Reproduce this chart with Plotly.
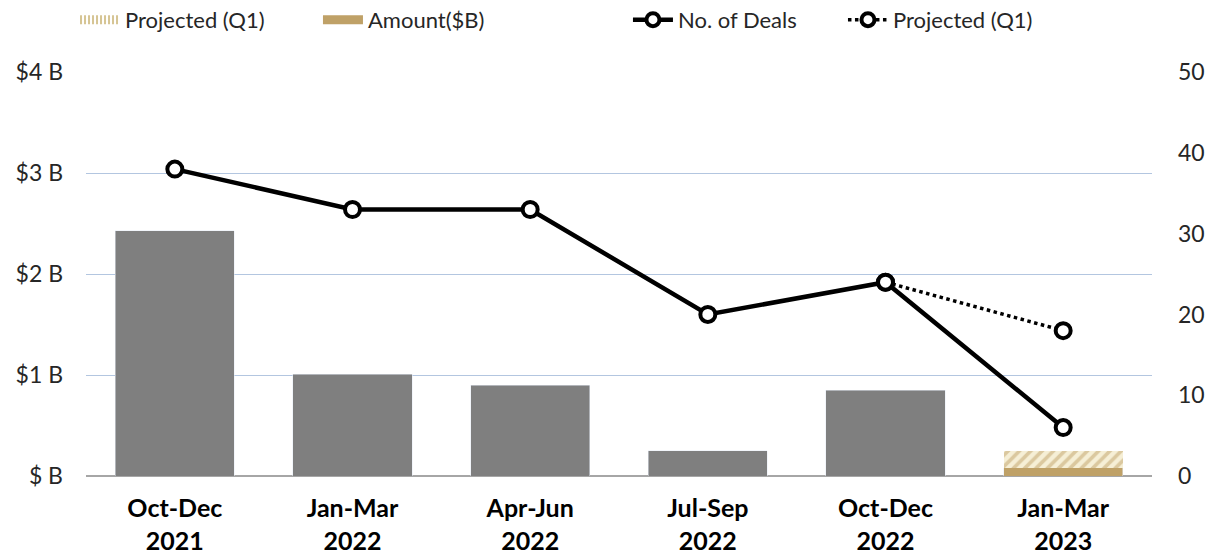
import plotly.graph_objects as go

quarters = ['Oct-Dec<br>2021', 'Jan-Mar<br>2022', 'Apr-Jun<br>2022',
            'Jul-Sep<br>2022', 'Oct-Dec<br>2022', 'Jan-Mar<br>2023']
amount_past = [2.43, 1.01, 0.90, 0.25, 0.85, None]
amount_current = [None, None, None, None, None, 0.08]
amount_projected_extra = [None, None, None, None, None, 0.17]
deals = [38, 33, 33, 20, 24, 6]
deals_projected_x = ['Oct-Dec<br>2022', 'Jan-Mar<br>2023']
deals_projected = [24, 18]

left_ticks = [0, 1, 2, 3, 4]
left_labels = ['$ B', '$1 B', '$2 B', '$3 B', '$4 B']
right_ticks = [0, 10, 20, 30, 40, 50]

GOLD = '#bfa167'
GRAY = '#7f7f7f'
FONT = 'Lato'

fig = go.Figure()

# bars (legend drawn with stand-in entries below)
fig.add_trace(go.Bar(x=quarters, y=amount_past, marker=dict(color=GRAY),
                     showlegend=False, width=0.67))
fig.add_trace(go.Bar(x=quarters, y=amount_current, marker=dict(color=GOLD),
                     showlegend=False, width=0.67))
fig.add_trace(go.Bar(
    x=quarters, y=amount_projected_extra, showlegend=False, width=0.67,
    marker=dict(color='#f6efd6', line=dict(width=0),
                pattern=dict(shape='/', fgcolor=GOLD, bgcolor='#f6efd6',
                             size=8, solidity=0.45)),
))

# lines
fig.add_trace(go.Scatter(
    x=deals_projected_x, y=deals_projected, yaxis='y2', showlegend=False,
    mode='lines+markers',
    line=dict(color='black', width=3.5, dash='dot'),
    marker=dict(size=15, color='white', line=dict(color='black', width=4)),
))
fig.add_trace(go.Scatter(
    x=quarters, y=deals, yaxis='y2', showlegend=False,
    mode='lines+markers',
    line=dict(color='black', width=4.5),
    marker=dict(size=15, color='white', line=dict(color='black', width=4)),
))

# legend entries, one legend each so they can be placed like the original
fig.add_trace(go.Scatter(name='Projected (Q1)', x=[None], y=[None], mode='lines',
                         legend='legend',
                         line=dict(color='#d6c594', width=9, dash='2px,2px')))
fig.add_trace(go.Scatter(name='Amount($B)', x=[None], y=[None], mode='lines',
                         legend='legend2',
                         line=dict(color=GOLD, width=9)))
fig.add_trace(go.Scatter(name='No. of Deals', x=[None], y=[None], mode='lines+markers',
                         yaxis='y2', legend='legend3', line=dict(color='black', width=4.5),
                         marker=dict(size=13, color='white', line=dict(color='black', width=4))))
fig.add_trace(go.Scatter(name='Projected (Q1)', x=[None], y=[None], mode='lines+markers',
                         yaxis='y2', legend='legend4', line=dict(color='black', width=3.5, dash='dot'),
                         marker=dict(size=13, color='white', line=dict(color='black', width=4))))

leg = dict(orientation='h', xanchor='left', y=1.129, yanchor='middle',
           font=dict(size=22, color='#262626'), itemwidth=40, bgcolor='rgba(0,0,0,0)')

fig.update_layout(
    width=1223, height=560,
    margin=dict(l=86, r=71, t=72, b=84, autoexpand=False),
    barmode='stack',
    plot_bgcolor='white', paper_bgcolor='white',
    font=dict(family=FONT, size=23, color='#262626'),
    legend=dict(leg, x=-0.0103),
    legend2=dict(leg, x=0.2176),
    legend3=dict(leg, x=0.5084),
    legend4=dict(leg, x=0.7101),
    xaxis=dict(
        tickfont=dict(size=25, color='black', family=FONT, weight='bold'),
        showgrid=False, showline=False, ticks='', ticklabelstandoff=15,
    ),
    yaxis=dict(
        range=[0, 4.002], tickvals=left_ticks, ticktext=left_labels,
        showgrid=True, gridcolor='#b3c6e0', gridwidth=1,
        zeroline=True, zerolinecolor='#a6a6a6', zerolinewidth=1.5,
        ticklabelstandoff=22, showline=False,
    ),
    yaxis2=dict(
        range=[0, 50.025], tickvals=right_ticks, overlaying='y', side='right',
        showgrid=False, zeroline=False, ticklabelstandoff=25,
    ),
)

# drop the default 8px page margin so the figure sits at the window corner
fig.write_html('out.html', config={'displayModeBar': False},
               post_script="document.body.style.margin='0';")
